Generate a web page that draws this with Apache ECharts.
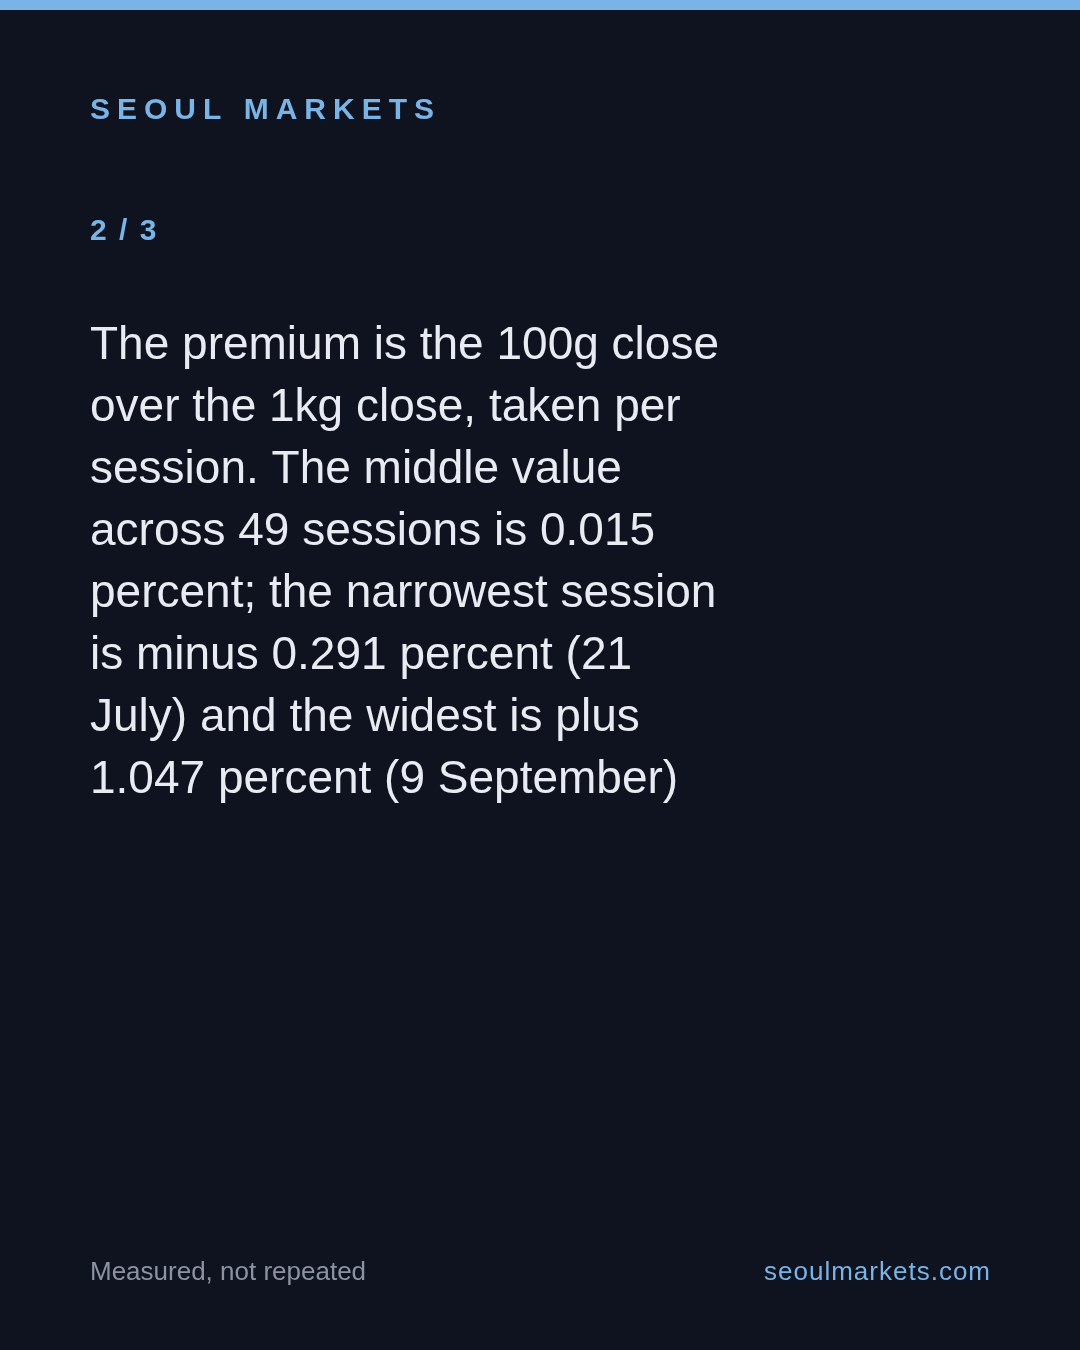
<!DOCTYPE html>
<html>
<head>
<meta charset="utf-8">
<script src="https://cdn.jsdelivr.net/npm/echarts@6/dist/echarts.min.js"></script>
<style>
html,body{margin:0;padding:0;background:#0e131f;}
#chart{width:1080px;height:1350px;}
</style>
</head>
<body>
<div id="chart"></div>
<script>
// ---- content ----
var brand = "SEOUL MARKETS";
var pageLabel = "2 / 3";
var bodyLines = [
  "The premium is the 100g close",
  "over the 1kg close, taken per",
  "session. The middle value",
  "across 49 sessions is 0.015",
  "percent; the narrowest session",
  "is minus 0.291 percent (21",
  "July) and the widest is plus",
  "1.047 percent (9 September)"
];
var footerLeft = "Measured, not repeated";
var footerRight = "seoulmarkets.com";

// ---- style ----
var FONT = "'Liberation Sans', Arial, Helvetica, sans-serif";
var BG = "#0e131f";
var ACCENT = "#7ab3e5";
var BODY = "#e8ebf1";
var MUTED = "#8b93a1";

var measureCtx = document.createElement("canvas").getContext("2d");
function spacedChars(text, x0, y, size, weight, spacing, color, alignRight) {
  var font = (weight ? weight + " " : "") + size + "px " + FONT;
  measureCtx.font = font;
  var widths = [];
  var total = 0;
  for (var i = 0; i < text.length; i++) {
    var w = measureCtx.measureText(text[i]).width;
    widths.push(w);
    total += w + (i < text.length - 1 ? spacing : 0);
  }
  var x = alignRight ? x0 - total : x0;
  var els = [];
  for (var j = 0; j < text.length; j++) {
    els.push({
      type: "text", x: x, y: y, silent: true,
      style: { text: text[j], fill: color, font: font, align: "left", verticalAlign: "middle" }
    });
    x += widths[j] + spacing;
  }
  return els;
}

var elements = [];
elements.push({ type: "rect", shape: { x: 0, y: 0, width: 1080, height: 10 }, style: { fill: ACCENT }, silent: true });
elements = elements.concat(spacedChars(brand, 90, 111, 30, "bold", 7.0, ACCENT));
elements = elements.concat(spacedChars(pageLabel, 90, 232, 30, "bold", 2, ACCENT));

bodyLines.forEach(function (line, i) {
  elements.push({
    type: "text", x: 90, y: 346 + i * 62, silent: true,
    style: { text: line, fill: BODY, font: "46px " + FONT, align: "left", verticalAlign: "middle" }
  });
});

elements.push({
  type: "text", x: 90, y: 1273, silent: true,
  style: { text: footerLeft, fill: MUTED, font: "26px " + FONT, align: "left", verticalAlign: "middle" }
});
elements = elements.concat(spacedChars(footerRight, 990, 1273, 26, "", 1, ACCENT, true));

var chart = echarts.init(document.getElementById("chart"), null, { renderer: "canvas", width: 1080, height: 1350 });
chart.setOption({
  backgroundColor: BG,
  animation: false,
  graphic: { elements: elements }
});
</script>
</body>
</html>
